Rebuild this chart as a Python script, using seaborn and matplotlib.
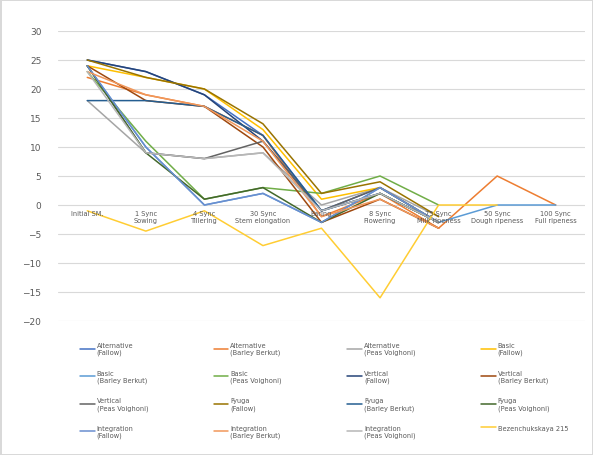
import numpy as np
import pandas as pd
import matplotlib
matplotlib.use("Agg")
import matplotlib.pyplot as plt
import seaborn as sns

# Stage labels along the category axis
stages = ["Initial SM.", "1 Sync\nSowing", "4 Sync\nTillering", "30 Sync\nStem elongation",
          "Earing", "8 Sync\nFlowering", "75 Sync\nMilk ripeness", "50 Sync\nDough ripeness",
          "100 Sync\nFull ripeness"]

nan = np.nan
alt_fallow = [25, 23, 19, 12, -1, 3, -3, nan, nan]
alt_barley = [22, 19, 17, 12, -2, 2, -4, 5, 0]
alt_peas = [18, 9, 8, 9, 0, 3, -2, nan, nan]
basic_fallow = [24, 22, 20, 13, 1, 3, -3, nan, nan]
basic_barley = [24, 10, 0, 2, -3, 3, -3, 0, 0]
basic_peas = [23, 11, 1, 3, 2, 5, 0, nan, nan]
vert_fallow = [25, 23, 19, 11, -1, 2, -3, nan, nan]
vert_barley = [24, 18, 17, 10, -3, 1, -4, nan, nan]
vert_peas = [24, 9, 8, 11, -1, 3, -3, nan, nan]
fyuga_fallow = [25, 22, 20, 14, 2, 4, -2, nan, nan]
fyuga_barley = [18, 18, 17, 12, -1, 2, -3, nan, nan]
fyuga_peas = [24, 9, 1, 3, -3, 2, -3, nan, nan]
integ_fallow = [24, 10, 0, 2, -3, 3, -3, nan, nan]
integ_barley = [23, 19, 17, 11, -2, 1, -4, nan, nan]
integ_peas = [23, 9, 8, 9, -1, 2, -3, nan, nan]
bezench = [-1, -4.5, -1, -7, -4, -16, 0, 0, nan]

names = ["Alternative\n(Fallow)", "Alternative\n(Barley Berkut)", "Alternative\n(Peas Voighoni)",
         "Basic\n(Fallow)", "Basic\n(Barley Berkut)", "Basic\n(Peas Voighoni)",
         "Vertical\n(Fallow)", "Vertical\n(Barley Berkut)", "Vertical\n(Peas Voighoni)",
         "Fyuga\n(Fallow)", "Fyuga\n(Barley Berkut)", "Fyuga\n(Peas Voighoni)",
         "Integration\n(Fallow)", "Integration\n(Barley Berkut)", "Integration\n(Peas Voighoni)",
         "Bezenchukskaya 215"]
series = [alt_fallow, alt_barley, alt_peas, basic_fallow, basic_barley, basic_peas,
          vert_fallow, vert_barley, vert_peas, fyuga_fallow, fyuga_barley, fyuga_peas,
          integ_fallow, integ_barley, integ_peas, bezench]
colors = ["#4472C4", "#ED7D31", "#A5A5A5", "#FFC000", "#5B9BD5", "#70AD47",
          "#264478", "#9E480E", "#636363", "#997300", "#255E91", "#43682B",
          "#698ED0", "#F1975A", "#B7B7B7", "#FFCD33"]

# long table for seaborn
rows = []
for name, vals in zip(names, series):
    for i, v in enumerate(vals):
        rows.append({"stage": i, "value": v, "variant": name})
df = pd.DataFrame(rows).dropna()

sns.set_style("white")
fig = plt.figure(figsize=(5.93, 4.56), dpi=100)
fig.patch.set_edgecolor("#D9D9D9")
fig.patch.set_linewidth(1)
ax = fig.add_axes([58 / 593, 1 - 322 / 456, 527 / 593, 290 / 456])

sns.lineplot(data=df, x="stage", y="value", hue="variant", hue_order=names,
             palette=colors, sort=False, linewidth=1.1, ax=ax)

ax.set_xlim(-0.5, 8.5)
ax.set_ylim(-20, 30)
ax.set_yticks(range(-20, 31, 5))
ax.yaxis.grid(True, color="#D9D9D9", linewidth=0.8)
ax.set_axisbelow(True)
ax.set_xticks([])
ax.set_xlabel("")
ax.set_ylabel("")
ax.tick_params(axis="y", labelsize=6.5, labelcolor="#595959", length=0, pad=12)
for s in ax.spines.values():
    s.set_visible(False)

# category labels sit next to the zero line
for i, lab in enumerate(stages):
    ax.text(i, -0.8, lab, ha="center", va="top", fontsize=4.8, color="#595959",
            linespacing=1.3)

handles, labels = ax.get_legend_handles_labels()
ax.legend_.remove()
order = [r * 4 + c for c in range(4) for r in range(4)]
fig.legend([handles[k] for k in order], [labels[k] for k in order],
           loc="upper left", bbox_to_anchor=(74 / 593, 1 - 337 / 456), ncol=4,
           frameon=False, fontsize=4.8, handlelength=2.2, columnspacing=9.8,
           labelspacing=2.1, handletextpad=0.3, labelcolor="#595959")

fig.savefig("out.png", dpi=100)
